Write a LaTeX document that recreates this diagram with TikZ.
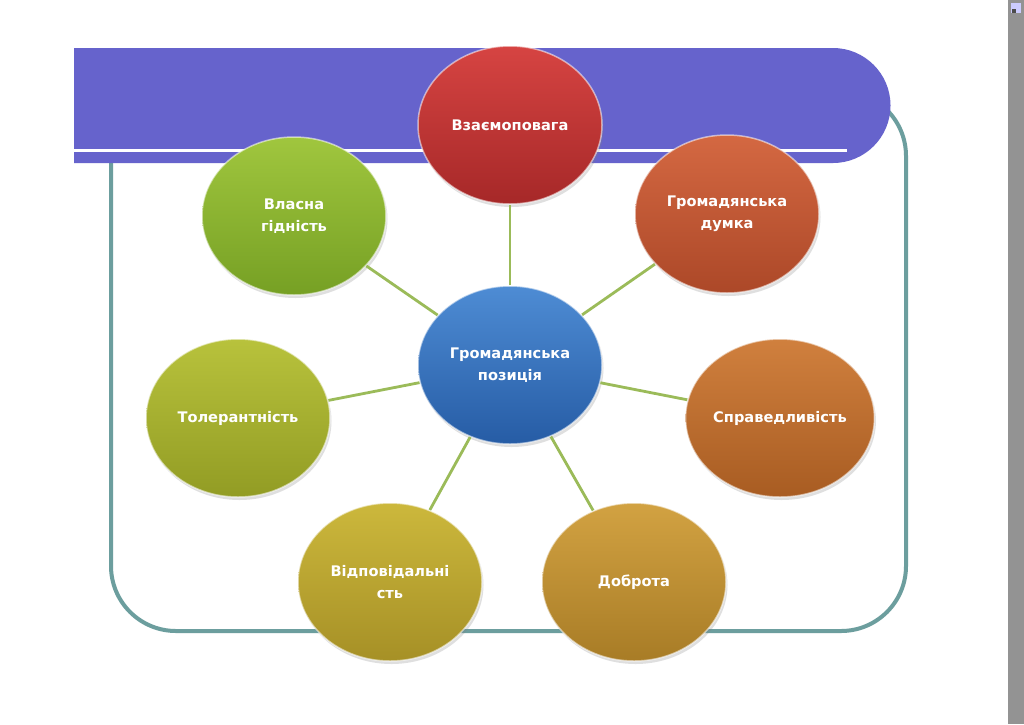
\documentclass[tikz,border=0pt]{standalone}
\usepackage{fontspec}
\setmainfont{DejaVu Sans}
\usetikzlibrary{shapes.geometric,shadows}
\definecolor{bandc}{HTML}{6663CC}
\definecolor{framec}{HTML}{6C9E9E}
\definecolor{linkc}{HTML}{9BBB59}
\tikzset{
  bubble/.style={ellipse, minimum width=184pt, minimum height=158pt,
    draw=white, draw opacity=0.55, line width=1.5pt,
    text=white, font=\bfseries\fontsize{14.6}{22}\selectfont, align=center, inner sep=0pt,
    drop shadow={opacity=0.25, shadow xshift=1.5pt, shadow yshift=-3pt}},
  link/.style={linkc, line width=2.8pt},
  framestyle/.style={framec, line width=4pt, rounded corners=65pt}
}
\begin{document}
\begin{tikzpicture}[x=1pt,y=-1pt]
\useasboundingbox (0,0) rectangle (1024,724);
\fill[white] (0,0) rectangle (1024,724);
% frame
\draw[framestyle] (111,91) rectangle (906,631);
% band
\fill[bandc] (74,48) -- (833,48) arc[start angle=-90, end angle=90, radius=57.5] -- (74,163) -- cycle;
\draw[white, line width=3pt] (74,150) -- (847,150);
% right gray bar
\fill[gray!85] (1008,0) rectangle (1024,724);
\fill[white!80!blue] (1011,3) rectangle (1021,13);
\fill[gray!60!black] (1012,9) rectangle (1016,13);
% nodes
\node[bubble, top color={rgb,255:red,78;green,140;blue,212}, bottom color={rgb,255:red,38;green,92;blue,165}] (c) at (510,365) {Громадянська\\позиція};
\node[bubble, top color={rgb,255:red,214;green,68;blue,66}, bottom color={rgb,255:red,166;green,40;blue,40}] (a1) at (510,125) {Взаємоповага};
\node[bubble, top color={rgb,255:red,212;green,104;blue,66}, bottom color={rgb,255:red,172;green,72;blue,40}] (a2) at (727,214) {Громадянська\\думка};
\node[bubble, top color={rgb,255:red,208;green,128;blue,62}, bottom color={rgb,255:red,168;green,92;blue,34}] (a3) at (780,418) {Справедливість};
\node[bubble, top color={rgb,255:red,210;green,162;blue,66}, bottom color={rgb,255:red,168;green,124;blue,38}] (a4) at (634,582) {Доброта};
\node[bubble, top color={rgb,255:red,204;green,184;blue,60}, bottom color={rgb,255:red,166;green,144;blue,38}] (a5) at (390,582) {Відповідальні\\сть};
\node[bubble, top color={rgb,255:red,184;green,194;blue,60}, bottom color={rgb,255:red,146;green,156;blue,36}] (a6) at (238,418) {Толерантність};
\node[bubble, top color={rgb,255:red,160;green,198;blue,62}, bottom color={rgb,255:red,118;green,160;blue,36}] (a7) at (294,216) {Власна\\гідність};
% connectors
\foreach \n in {a1,a2,a3,a4,a5,a6,a7}{\draw[link] (c) -- (\n);}
\end{tikzpicture}
\end{document}
